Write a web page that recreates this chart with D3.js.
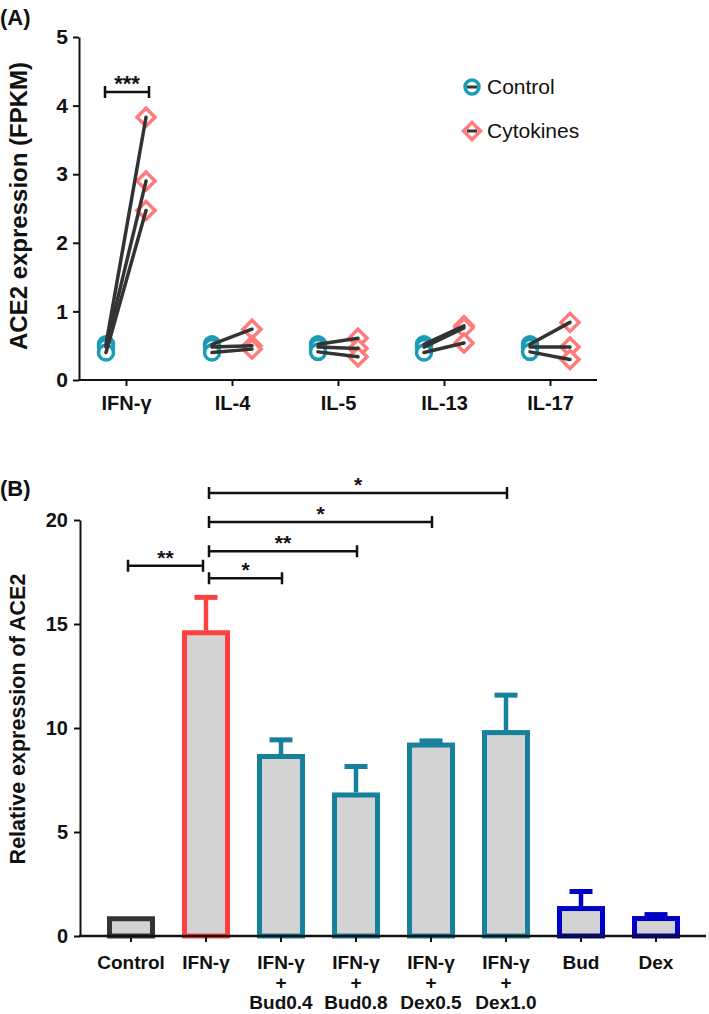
<!DOCTYPE html>
<html><head><meta charset="utf-8">
<script src="https://cdn.jsdelivr.net/npm/d3@7"></script>
<style>body{margin:0;background:#fff}svg{display:block}</style>
</head><body>
<svg id="c" width="709" height="1014"></svg>
<script>
// ---------- Panel A data ----------
const cytokines = ["IFN-γ", "IL-4", "IL-5", "IL-13", "IL-17"];
const controlVals = [
  [0.52, 0.48, 0.40],
  [0.52, 0.48, 0.40],
  [0.52, 0.48, 0.41],
  [0.52, 0.48, 0.40],
  [0.52, 0.48, 0.41]
];
const cytokineVals = [
  [3.83, 2.90, 2.47],
  [0.74, 0.50, 0.45],
  [0.61, 0.46, 0.34],
  [0.79, 0.76, 0.54],
  [0.84, 0.48, 0.30]
];
const yTicksA = [0, 1, 2, 3, 4, 5];
const legendLabels = ["Control", "Cytokines"];

// ---------- Panel B data ----------
const groups = ["Control", "IFN-γ", "IFN-γ+Bud0.4", "IFN-γ+Bud0.8", "IFN-γ+Dex0.5", "IFN-γ+Dex1.0", "Bud", "Dex"];
const groupLabelLines = [["Control"], ["IFN-γ"], ["IFN-γ", "+", "Bud0.4"], ["IFN-γ", "+", "Bud0.8"], ["IFN-γ", "+", "Dex0.5"], ["IFN-γ", "+", "Dex1.0"], ["Bud"], ["Dex"]];
const means = [0.95, 14.7, 8.75, 6.9, 9.3, 9.9, 1.44, 0.96];
const sems = [0.0, 1.7, 0.8, 1.37, 0.2, 1.8, 0.82, 0.19];
const barColors = ["#333333", "#ff4040", "#17819b", "#17819b", "#17819b", "#17819b", "#0000c8", "#0000c8"];
const yTicksB = [0, 5, 10, 15, 20];
const sigPairs = [
  {a: 0, b: 1, y: 17.8, label: "**"},
  {a: 1, b: 2, y: 17.2, label: "*"},
  {a: 1, b: 3, y: 18.5, label: "**"},
  {a: 1, b: 4, y: 19.9, label: "*"},
  {a: 1, b: 5, y: 21.3, label: "*"}
];

const svg = d3.select("#c");
const boldFont = "'Liberation Sans', Arial, sans-serif";

// ================= Panel A =================
const xA = d3.scalePoint().domain(cytokines).range([126, 550]);
const yA = d3.scaleLinear().domain([0, 5]).range([380, 37]);
const gA = svg.append("g");

const yAxisA = d3.axisLeft(yA).tickValues(yTicksA).tickFormat(d3.format("d")).tickSize(6).tickSizeOuter(0).tickPadding(5);
const gyA = gA.append("g").attr("transform", "translate(79,0)").call(yAxisA);
gyA.select(".domain").attr("stroke", "#111").attr("stroke-width", 2);
gyA.selectAll(".tick line").attr("stroke", "#111").attr("stroke-width", 2);
gyA.selectAll(".tick text").attr("font-family", boldFont).attr("font-weight", "bold").attr("font-size", 21).attr("fill", "#111");

const xAxisA = d3.axisBottom(xA).tickSize(6).tickSizeOuter(0).tickPadding(10);
const gxA = gA.append("g").attr("transform", "translate(0,380)").call(xAxisA);
gxA.select(".domain").attr("d", "M79,0H597").attr("stroke", "#111").attr("stroke-width", 2);
gxA.selectAll(".tick line").attr("stroke", "#111").attr("stroke-width", 2);
gxA.selectAll(".tick text").attr("font-family", boldFont).attr("font-weight", "bold").attr("font-size", 20)
  .attr("fill", "#111").attr("textLength", null);

gA.append("text").attr("transform", "translate(27,206) rotate(-90)")
  .attr("text-anchor", "middle").attr("font-family", boldFont).attr("font-weight", "bold")
  .attr("font-size", 24).attr("fill", "#111").text("ACE2 expression (FPKM)");
gA.append("text").attr("x", 0).attr("y", 25).attr("font-family", boldFont).attr("font-weight", "bold")
  .attr("font-size", 22).attr("fill", "#111").text("(A)");

const teal = "#1a9bb6", salmon = "#ff7b7b";
const offset = 20;
function diamond(sel, cx, cy, r) {
  sel.append("path").attr("d", `M${cx},${cy - r}L${cx + r},${cy}L${cx},${cy + r}L${cx - r},${cy}Z`)
    .attr("fill", "#fff").attr("stroke", salmon).attr("stroke-width", 3.5);
}
cytokines.forEach((c, i) => {
  const cx = xA(c);
  controlVals[i].forEach(v => {
    gA.append("circle").attr("cx", cx - offset).attr("cy", yA(v)).attr("r", 7.5)
      .attr("fill", "#fff").attr("stroke", teal).attr("stroke-width", 3.5);
  });
  cytokineVals[i].forEach(v => diamond(gA, cx + offset, yA(v), 9));
  controlVals[i].forEach((v, j) => {
    gA.append("line").attr("x1", cx - offset).attr("y1", yA(v))
      .attr("x2", cx + offset).attr("y2", yA(cytokineVals[i][j]))
      .attr("stroke", "#333").attr("stroke-width", 3.5).attr("stroke-linecap", "round");
  });
});

{
  const x1 = xA(cytokines[0]) - offset - 1, x2 = xA(cytokines[0]) + offset + 3, yy = yA(4.2);
  gA.append("path").attr("d", `M${x1},${yy - 6}V${yy + 6}M${x1},${yy}H${x2}M${x2},${yy - 6}V${yy + 6}`)
    .attr("stroke", "#111").attr("stroke-width", 2.5).attr("fill", "none");
  gA.append("text").attr("x", (x1 + x2) / 2).attr("y", yy - 1).attr("text-anchor", "middle")
    .attr("font-family", boldFont).attr("font-weight", "bold").attr("font-size", 22).attr("fill", "#111").text("***");
}

legendLabels.forEach((lab, i) => {
  const ly = 87 + i * 44, lx = 472;
  if (i === 0) {
    gA.append("circle").attr("cx", lx).attr("cy", ly).attr("r", 7).attr("fill", "#fff").attr("stroke", teal).attr("stroke-width", 3.5);
  } else {
    diamond(gA, lx, ly, 8.5);
  }
  gA.append("line").attr("x1", lx - 5).attr("x2", lx + 5).attr("y1", ly).attr("y2", ly).attr("stroke", "#333").attr("stroke-width", 3);
  gA.append("text").attr("x", lx + 15).attr("y", ly + 7).attr("font-family", boldFont)
    .attr("font-size", 21).attr("fill", "#111").text(lab);
});

// ================= Panel B =================
const xB = d3.scaleBand().domain(groups).range([93.5, 693.5]).paddingInner(0.36).paddingOuter(0.18);
const yB = d3.scaleLinear().domain([0, 20]).range([936, 520]);
const gB = svg.append("g");

gB.append("text").attr("x", 0).attr("y", 496).attr("font-family", boldFont).attr("font-weight", "bold")
  .attr("font-size", 22).attr("fill", "#111").text("(B)");
gB.append("text").attr("transform", "translate(25,719) rotate(-90)")
  .attr("text-anchor", "middle").attr("font-family", boldFont).attr("font-weight", "bold")
  .attr("font-size", 21.5).attr("fill", "#111").text("Relative expression of ACE2");

const sw = 5;
groups.forEach((g, i) => {
  const x0 = xB(g), bw = xB.bandwidth(), cx = x0 + bw / 2;
  const col = barColors[i];
  if (sems[i] > 0) {
    gB.append("line").attr("x1", cx).attr("x2", cx).attr("y1", yB(means[i])).attr("y2", yB(means[i] + sems[i]) + 2)
      .attr("stroke", col).attr("stroke-width", 4.5);
    gB.append("line").attr("x1", cx - 11.5).attr("x2", cx + 11.5).attr("y1", yB(means[i] + sems[i]) + 2.5).attr("y2", yB(means[i] + sems[i]) + 2.5)
      .attr("stroke", col).attr("stroke-width", 5);
  }
  gB.append("rect").attr("x", x0 + sw / 2).attr("y", yB(means[i]) + sw / 2)
    .attr("width", bw - sw).attr("height", yB(0) - yB(means[i]) - sw / 2)
    .attr("fill", "#d3d3d3").attr("stroke", col).attr("stroke-width", sw);
});

const yAxisB = d3.axisLeft(yB).tickValues(yTicksB).tickFormat(d3.format("d")).tickSize(6).tickSizeOuter(0).tickPadding(6);
const gyB = gB.append("g").attr("transform", "translate(80,0)").call(yAxisB);
gyB.select(".domain").attr("stroke", "#111").attr("stroke-width", 2);
gyB.selectAll(".tick line").attr("stroke", "#111").attr("stroke-width", 2);
gyB.selectAll(".tick text").attr("font-family", boldFont).attr("font-weight", "bold").attr("font-size", 20).attr("fill", "#111");

const xAxisB = d3.axisBottom(xB).tickSize(6).tickSizeOuter(0).tickFormat(() => "");
const gxB = gB.append("g").attr("transform", "translate(0,936)").call(xAxisB);
gxB.select(".domain").attr("d", "M79,0H706").attr("stroke", "#111").attr("stroke-width", 2.5);
gxB.selectAll(".tick line").attr("stroke", "#111").attr("stroke-width", 2);
gxB.selectAll(".tick").each(function(d, i) {
  const t = d3.select(this).append("text").attr("text-anchor", "middle").attr("fill", "#111")
    .attr("font-family", boldFont).attr("font-weight", "bold").attr("font-size", 19);
  groupLabelLines[i].forEach((ln, k) => {
    t.append("tspan").attr("x", 0).attr("y", 33 + k * 20).text(ln);
  });
});

sigPairs.forEach(p => {
  const ca = xB(groups[p.a]) + xB.bandwidth() / 2, cb = xB(groups[p.b]) + xB.bandwidth() / 2;
  const x1 = p.a === 1 ? ca + 3 : ca - 3;
  const x2 = p.b === 1 ? cb - 3 : cb + 1;
  const yy = yB(p.y);
  gB.append("path").attr("d", `M${x1},${yy - 6}V${yy + 6}M${x1},${yy}H${x2}M${x2},${yy - 6}V${yy + 6}`)
    .attr("stroke", "#111").attr("stroke-width", 2.5).attr("fill", "none");
  gB.append("text").attr("x", (x1 + x2) / 2).attr("y", yy - 1).attr("text-anchor", "middle")
    .attr("font-family", boldFont).attr("font-weight", "bold").attr("font-size", 21).attr("fill", "#111").text(p.label);
});
</script>
</body></html>
